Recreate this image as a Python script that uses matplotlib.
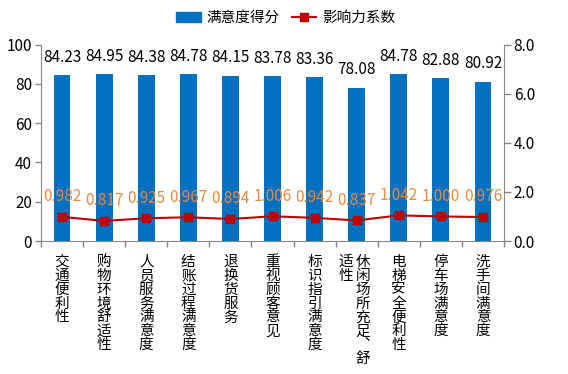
import numpy as np
import matplotlib
matplotlib.use("Agg")
import matplotlib.pyplot as plt
from matplotlib.lines import Line2D
from matplotlib.patches import Patch

plt.rcParams['font.family'] = ['Noto Sans CJK SC', 'DejaVu Sans']

# data
categories = ['交通便利性', '购物环境舒适性', '人员服务满意度', '结账过程满意度', '退换货服务',
              '重视顾客意见', '标识指引满意度', '休闲场所充足、舒适性', '电梯安全便利性',
              '停车场满意度', '洗手间满意度']
scores = [84.23, 84.95, 84.38, 84.78, 84.15, 83.78, 83.36, 78.08, 84.78, 82.88, 80.92]
impact = [0.982, 0.817, 0.925, 0.967, 0.894, 1.006, 0.942, 0.837, 1.042, 1.000, 0.976]

blue = '#0070C0'
red = '#C00000'
orange = '#F0883C'
gray = '#868686'

fig = plt.figure(figsize=(5.68, 3.74), dpi=100)
ax = fig.add_axes([41/568, 1-241/374, 463/568, 196.5/374])
ax2 = ax.twinx()

x = np.arange(len(categories))
ax.bar(x, scores, width=0.4, color=blue, zorder=2)
for xi, v in zip(x, scores):
    ax.annotate(f'{v:.2f}', (xi, v), xytext=(0, 13), textcoords='offset points',
                ha='center', va='center', fontsize=11, color='black')

ax2.plot(x, impact, color=red, lw=1.5, marker='s', markersize=5.5, zorder=3)
for xi, v in zip(x, impact):
    ax2.annotate(f'{v:.3f}', (xi, v), xytext=(0, 14.5), textcoords='offset points',
                 ha='center', va='center', fontsize=11, color=orange)

ax.set_xlim(-0.5, len(categories) - 0.5)
ax.set_ylim(0, 100)
ax.set_yticks(np.arange(0, 101, 20))
ax2.set_ylim(0, 8)
ax2.set_yticks(np.arange(0, 8.1, 2))
ax2.set_yticklabels([f'{t:.1f}' for t in np.arange(0, 8.1, 2)])

for a in (ax, ax2):
    for s in a.spines.values():
        s.set_visible(False)
ax.tick_params(axis='y', colors=gray, labelcolor='black', labelsize=11, length=4.5, width=1, pad=2)
ax2.tick_params(axis='y', colors=gray, labelcolor='black', labelsize=11, length=5, width=1, pad=2)
ax.spines['left'].set_visible(True)
ax.spines['left'].set_color(gray)
ax2.spines['right'].set_visible(True)
ax2.spines['right'].set_color(gray)
ax.spines['bottom'].set_visible(True)
ax.spines['bottom'].set_color(gray)

# ticks between categories
ax.set_xticks(np.arange(-0.5, len(categories), 1.0))
ax.set_xticklabels([])
ax.tick_params(axis='x', colors=gray, length=4.5, width=1)

# vertical stacked labels (vertical form of the ideographic comma)
def vlabel(xpos, text):
    text = text.replace('、', '\ufe11')
    ax.annotate('\n'.join(text), (xpos, 0), xycoords=('data', 'axes fraction'),
                xytext=(0, -10), textcoords='offset points',
                ha='center', va='top', fontsize=10.5, linespacing=0.99)

for xi, lab in zip(x, categories):
    if len(lab) > 8:
        vlabel(xi + 0.15, lab[:8])
        vlabel(xi - 0.26, lab[8:])
    else:
        vlabel(xi, lab)

handles = [Patch(color=blue, label='满意度得分'),
           Line2D([0], [0], color=red, lw=1.5, marker='s', markersize=5.5, label='影响力系数')]
fig.legend(handles=handles, loc='center', bbox_to_anchor=(0.503, 1 - 18/374),
           ncol=2, frameon=False, fontsize=10.5, handlelength=1.7, columnspacing=0.8,
           handletextpad=0.4)

fig.savefig('out.png', dpi=100)
